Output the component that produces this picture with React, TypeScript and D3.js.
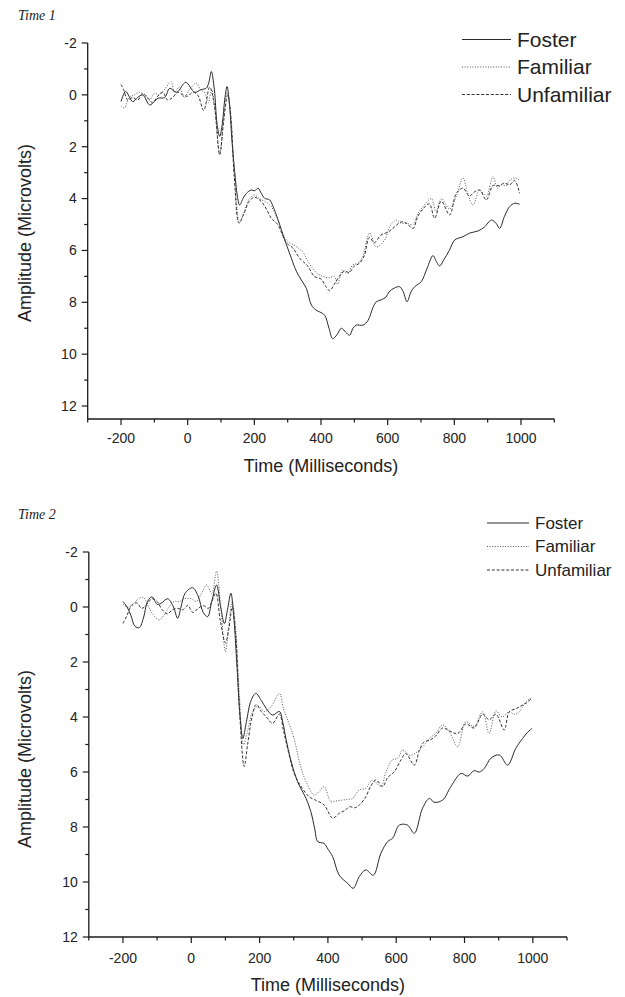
import React from "react";
import * as d3 from "d3";

type Pt = [number, number];

const seriesNames = ["Foster", "Familiar", "Unfamiliar"];
const xTicksMajor = [-200, 0, 200, 400, 600, 800, 1000];
const yTicksMajor = [-2, 0, 2, 4, 6, 8, 10, 12];

// Time 1 (ms, microvolts)
const t1Foster: Pt[] = [
  [-200, 0.26], [-186, -0.13], [-165, 0.26], [-150, 0.1], [-135, 0.0], [-114, 0.39], [-100, 0.25], [-89, 0.13],
  [-69, 0.1], [-54, -0.25], [-33, -0.1], [-6, -0.48], [21, -0.1], [40, -0.2], [56, -0.26], [63, -0.45], [71, -0.9],
  [80, -0.2], [88, 1.1], [96, 1.6], [104, 1.1], [111, 0.2], [118, -0.32], [125, 0.3], [133, 1.8], [141, 2.96],
  [149, 3.9], [156, 4.25], [166, 4.0], [176, 3.8], [191, 3.67], [201, 3.7], [211, 3.6], [221, 3.8], [231, 3.99],
  [246, 4.05], [256, 4.3], [266, 4.63], [286, 5.4], [311, 6.3], [326, 6.8], [341, 7.14], [356, 7.46], [371, 8.1],
  [385, 8.3], [396, 8.37], [411, 8.5], [424, 9.0], [435, 9.4], [448, 9.25], [461, 9.0], [474, 9.15], [486, 9.27],
  [496, 9.0], [506, 8.88], [526, 8.88], [541, 8.7], [556, 8.2], [566, 7.98], [581, 7.9], [595, 7.8], [604, 7.6],
  [620, 7.45], [636, 7.4], [647, 7.6], [658, 7.98], [670, 7.6], [681, 7.4], [701, 7.2], [718, 6.7], [736, 6.2],
  [747, 6.45], [756, 6.6], [768, 6.37], [785, 6.0], [801, 5.6], [826, 5.47], [846, 5.33], [871, 5.25], [890, 5.1],
  [911, 4.83], [925, 4.95], [936, 5.15], [950, 4.7], [966, 4.31], [981, 4.18], [996, 4.22],
];

const t1Familiar: Pt[] = [
  [-200, 0.45], [-190, 0.5], [-175, 0.1], [-160, 0.0], [-145, -0.1], [-130, 0.0], [-115, 0.2], [-100, -0.05],
  [-85, 0.0], [-70, -0.2], [-49, -0.5], [-40, -0.1], [-25, -0.3], [-10, 0.1], [5, -0.2], [26, -0.45], [38, -0.2],
  [50, -0.1], [62, 0.3], [72, -0.2], [82, 0.6], [96, 2.3], [106, 1.2], [118, -0.1], [128, 0.6], [140, 3.0],
  [156, 4.9], [170, 4.5], [185, 4.0], [201, 3.86], [215, 4.0], [230, 4.1], [250, 4.3], [270, 4.8], [296, 5.6],
  [320, 5.8], [345, 6.05], [360, 6.4], [375, 6.7], [390, 6.9], [405, 7.0], [425, 7.05], [440, 7.0], [450, 7.3],
  [465, 6.75], [480, 6.9], [495, 6.56], [510, 6.5], [525, 6.24], [546, 5.33], [566, 5.86], [591, 5.6], [606, 5.08],
  [626, 4.83], [640, 4.95], [656, 4.95], [676, 5.0], [690, 4.6], [706, 4.31], [731, 4.0], [745, 4.5], [761, 4.0],
  [786, 4.4], [806, 3.9], [826, 3.2], [840, 3.8], [856, 4.25], [876, 3.67], [896, 3.9], [916, 3.15], [930, 3.6],
  [941, 3.47], [955, 3.5], [966, 3.3], [981, 3.2], [996, 3.3],
];

const t1Unfamiliar: Pt[] = [
  [-200, -0.4], [-192, -0.2], [-180, 0.2], [-165, 0.1], [-150, 0.2], [-135, -0.05], [-120, 0.1], [-105, 0.3],
  [-90, 0.05], [-75, -0.1], [-60, 0.2], [-45, 0.1], [-30, -0.1], [-15, 0.0], [0, 0.05], [15, -0.1], [30, 0.0],
  [48, 0.6], [66, -0.3], [80, 0.4], [96, 2.3], [108, 1.0], [120, 0.0], [129, 0.8], [140, 3.2], [154, 4.95],
  [168, 4.6], [185, 4.1], [201, 3.95], [220, 4.1], [236, 4.4], [251, 4.76], [270, 5.0], [296, 5.7], [315, 5.9],
  [336, 6.3], [360, 6.6], [380, 7.0], [400, 7.1], [415, 7.4], [426, 7.55], [440, 7.3], [455, 7.0], [470, 6.8],
  [485, 6.85], [500, 6.6], [515, 6.5], [530, 6.2], [545, 5.5], [560, 5.7], [580, 5.4], [600, 5.3], [620, 5.1],
  [640, 4.9], [656, 4.95], [676, 5.15], [690, 4.7], [706, 4.4], [725, 4.2], [741, 4.76], [761, 4.1], [786, 4.63],
  [806, 3.8], [826, 3.6], [845, 3.9], [860, 3.75], [876, 3.67], [896, 4.05], [916, 3.5], [935, 3.5], [950, 3.4],
  [966, 3.47], [981, 3.3], [996, 3.8],
];

// Time 2
const t2Foster: Pt[] = [
  [-200, -0.2], [-188, 0.0], [-177, 0.3], [-165, 0.7], [-152, 0.75], [-140, 0.4], [-128, -0.2], [-115, -0.37],
  [-100, -0.1], [-89, -0.13], [-69, -0.3], [-52, 0.0], [-40, 0.41], [-30, 0.0], [-18, -0.5], [4, -0.7], [20, -0.4],
  [35, 0.2], [48, 0.35], [60, -0.2], [74, -0.8], [86, 0.0], [97, 0.6], [106, 0.1], [116, -0.5], [124, 0.3],
  [134, 2.2], [143, 4.0], [151, 4.78], [161, 4.2], [175, 3.4], [189, 3.14], [205, 3.4], [220, 3.7], [238, 3.93],
  [258, 3.8], [268, 4.2], [277, 4.78], [292, 5.6], [311, 6.35], [336, 6.96], [350, 7.44], [362, 8.1], [370, 8.53],
  [389, 8.6], [400, 8.8], [414, 9.08], [433, 9.75], [458, 10.05], [474, 10.23], [492, 9.8], [511, 9.56],
  [533, 9.75], [555, 8.96], [575, 8.53], [590, 8.4], [609, 7.93], [633, 7.93], [653, 8.23], [677, 7.32],
  [697, 6.96], [711, 7.1], [736, 7.02], [760, 6.53], [790, 6.05], [809, 6.15], [828, 5.95], [843, 6.0],
  [858, 5.87], [877, 5.5], [902, 5.38], [926, 5.75], [950, 5.14], [970, 4.78], [985, 4.55], [998, 4.41],
];

const t2Familiar: Pt[] = [
  [-200, -0.1], [-185, 0.0], [-170, -0.1], [-155, -0.3], [-140, -0.35], [-125, 0.0], [-110, 0.3], [-94, 0.47],
  [-80, 0.3], [-65, 0.0], [-50, -0.2], [-35, -0.2], [-20, -0.3], [0, -0.3], [15, -0.2], [30, -0.5], [45, -0.8],
  [60, -0.5], [74, -1.3], [85, -0.2], [100, 1.62], [110, 0.6], [120, -0.2], [130, 0.8], [140, 3.0], [153, 5.0],
  [165, 4.5], [180, 3.8], [195, 3.6], [215, 3.8], [235, 3.6], [258, 3.14], [270, 3.7], [285, 4.2], [301, 4.78],
  [320, 5.8], [336, 6.35], [360, 6.84], [375, 6.7], [389, 6.53], [409, 7.08], [425, 7.05], [443, 7.02], [458, 7.0],
  [472, 6.96], [492, 6.65], [510, 6.6], [531, 6.29], [555, 6.53], [570, 6.0], [589, 5.56], [605, 5.5], [619, 5.2],
  [640, 5.4], [658, 5.3], [677, 5.1], [697, 4.78], [715, 4.6], [736, 4.29], [755, 4.53], [780, 5.08], [804, 4.17],
  [828, 4.35], [853, 3.81], [872, 4.6], [892, 3.78], [910, 4.0], [931, 3.81], [945, 3.9], [960, 3.81], [980, 3.44],
  [998, 3.3],
];

const t2Unfamiliar: Pt[] = [
  [-200, 0.6], [-188, 0.3], [-175, -0.05], [-160, -0.15], [-145, 0.05], [-130, -0.1], [-115, -0.3], [-100, -0.2],
  [-85, 0.1], [-70, 0.25], [-55, 0.1], [-40, 0.05], [-25, 0.1], [-10, -0.05], [5, 0.2], [20, 0.05], [35, -0.05],
  [50, 0.05], [60, -0.2], [72, -0.5], [85, 0.5], [100, 1.3], [110, 0.8], [120, 0.0], [130, 1.0], [140, 3.5],
  [155, 5.8], [165, 5.0], [178, 4.0], [190, 3.55], [205, 3.8], [220, 4.0], [238, 4.23], [258, 3.9], [270, 4.5],
  [285, 5.3], [300, 6.0], [320, 6.5], [345, 6.9], [360, 7.0], [389, 7.2], [414, 7.68], [433, 7.5], [450, 7.4],
  [463, 7.26], [478, 7.3], [492, 7.2], [511, 6.9], [526, 6.5], [541, 6.29], [560, 6.53], [575, 6.2], [594, 6.0],
  [612, 5.6], [628, 5.33], [653, 5.75], [668, 5.2], [682, 4.9], [697, 4.85], [715, 4.7], [736, 4.4], [755, 4.5],
  [780, 4.6], [804, 4.25], [828, 4.4], [853, 3.9], [872, 4.1], [892, 3.9], [916, 4.47], [931, 3.81], [950, 3.7],
  [965, 3.6], [980, 3.5], [998, 3.3],
];

const styles = [
  { stroke: "#2a2a2a", dash: undefined as string | undefined, width: 1 },
  { stroke: "#555", dash: "1,1.6", width: 1 },
  { stroke: "#333", dash: "3,1.8", width: 1 },
];

const FONT = "'Liberation Sans', Arial, sans-serif";

interface PanelProps {
  label: string;
  series: Pt[][];
  x0: number; x1: number;
  yTop: number; yBottom: number;
  yDomainMax: number;
  tickLabelBaseline: number;
  xTitleBaseline: number;
  yTitleX: number;
  yTitleCenter: number;
  labelY: number;
  legendX0: number; legendX1: number; legendY: number; legendStep: number; legendFont: number;
}

function Panel(p: PanelProps) {
  const x = d3.scaleLinear().domain([-300, 1100]).range([p.x0, p.x1]);
  const y = d3.scaleLinear().domain([-2, p.yDomainMax]).range([p.yTop, p.yBottom]);
  const line = d3
    .line<Pt>()
    .x((d) => x(d[0]))
    .y((d) => y(d[1]))
    .curve(d3.curveCatmullRom.alpha(0.5));
  const xMinor = d3.range(-300, 1101, 100);
  const yMinor = d3.range(-2, p.yDomainMax + 0.01, 1);
  const axisColor = "#1a1a1a";
  return (
    <g>
      <text x={18} y={p.labelY} fontFamily="'Liberation Serif', 'Times New Roman', serif" fontStyle="italic" fontSize={14} fill="#222">
        {p.label}
      </text>
      {p.series.map((s, i) => (
        <path key={i} d={line(s) || ""} fill="none" stroke={styles[i].stroke} strokeWidth={styles[i].width} strokeDasharray={styles[i].dash} />
      ))}
      {/* axes */}
      <line x1={p.x0} x2={p.x0} y1={y(-2)} y2={p.yBottom} stroke={axisColor} strokeWidth={1.3} />
      <line x1={p.x0} x2={p.x1} y1={p.yBottom} y2={p.yBottom} stroke={axisColor} strokeWidth={1.3} />
      {yMinor.map((v) => {
        const major = yTicksMajor.includes(v);
        return <line key={"ym" + v} x1={p.x0} x2={p.x0 - (major ? 6 : 3.5)} y1={y(v)} y2={y(v)} stroke={axisColor} strokeWidth={1.2} />;
      })}
      {xMinor.map((v) => {
        const major = xTicksMajor.includes(v);
        return <line key={"xm" + v} x1={x(v)} x2={x(v)} y1={p.yBottom} y2={p.yBottom + (major ? 6 : 3.5)} stroke={axisColor} strokeWidth={1.2} />;
      })}
      {yTicksMajor.map((v) => (
        <text key={"yl" + v} x={p.x0 - 11} y={y(v)} dy="0.35em" textAnchor="end" fontFamily={FONT} fontSize={14} fill="#222">
          {v}
        </text>
      ))}
      {xTicksMajor.map((v) => (
        <text key={"xl" + v} x={x(v)} y={p.tickLabelBaseline} textAnchor="middle" fontFamily={FONT} fontSize={14} fill="#222">
          {v}
        </text>
      ))}
      <text x={(p.x0 + p.x1) / 2} y={p.xTitleBaseline} textAnchor="middle" fontFamily={FONT} fontSize={18} fill="#222">
        Time (Milliseconds)
      </text>
      <text
        transform={`translate(${p.yTitleX},${p.yTitleCenter}) rotate(-90)`}
        textAnchor="middle"
        fontFamily={FONT}
        fontSize={18}
        fill="#222"
      >
        Amplitude (Microvolts)
      </text>
      {/* legend */}
      {seriesNames.map((n, i) => {
        const ly = p.legendY + i * p.legendStep;
        return (
          <g key={n}>
            <line x1={p.legendX0} x2={p.legendX1} y1={ly} y2={ly} stroke={styles[i].stroke} strokeWidth={1} strokeDasharray={styles[i].dash} />
            <text x={p.legendX1 + 6} y={ly} dy="0.35em" fontFamily={FONT} fontSize={p.legendFont} fill="#222">
              {n}
            </text>
          </g>
        );
      })}
    </g>
  );
}

export default function App() {
  return (
    <svg width={625} height={997} style={{ position: "absolute", left: 0, top: 0, background: "#fff" }}>
      <rect width={625} height={997} fill="#fff" />
      <Panel
        label="Time 1"
        series={[t1Foster, t1Familiar, t1Unfamiliar]}
        x0={87.7} x1={554.3}
        yTop={43} yBottom={419} yDomainMax={12.5}
        tickLabelBaseline={443}
        xTitleBaseline={472}
        yTitleX={31}
        yTitleCenter={233}
        labelY={20}
        legendX0={462} legendX1={511} legendY={39.5} legendStep={27.5} legendFont={21}
      />
      <Panel
        label="Time 2"
        series={[t2Foster, t2Familiar, t2Unfamiliar]}
        x0={88.8} x1={567}
        yTop={552} yBottom={937} yDomainMax={12}
        tickLabelBaseline={963}
        xTitleBaseline={991}
        yTitleX={31}
        yTitleCenter={759}
        labelY={519}
        legendX0={487} legendX1={529} legendY={523} legendStep={23.5} legendFont={17}
      />
    </svg>
  );
}
